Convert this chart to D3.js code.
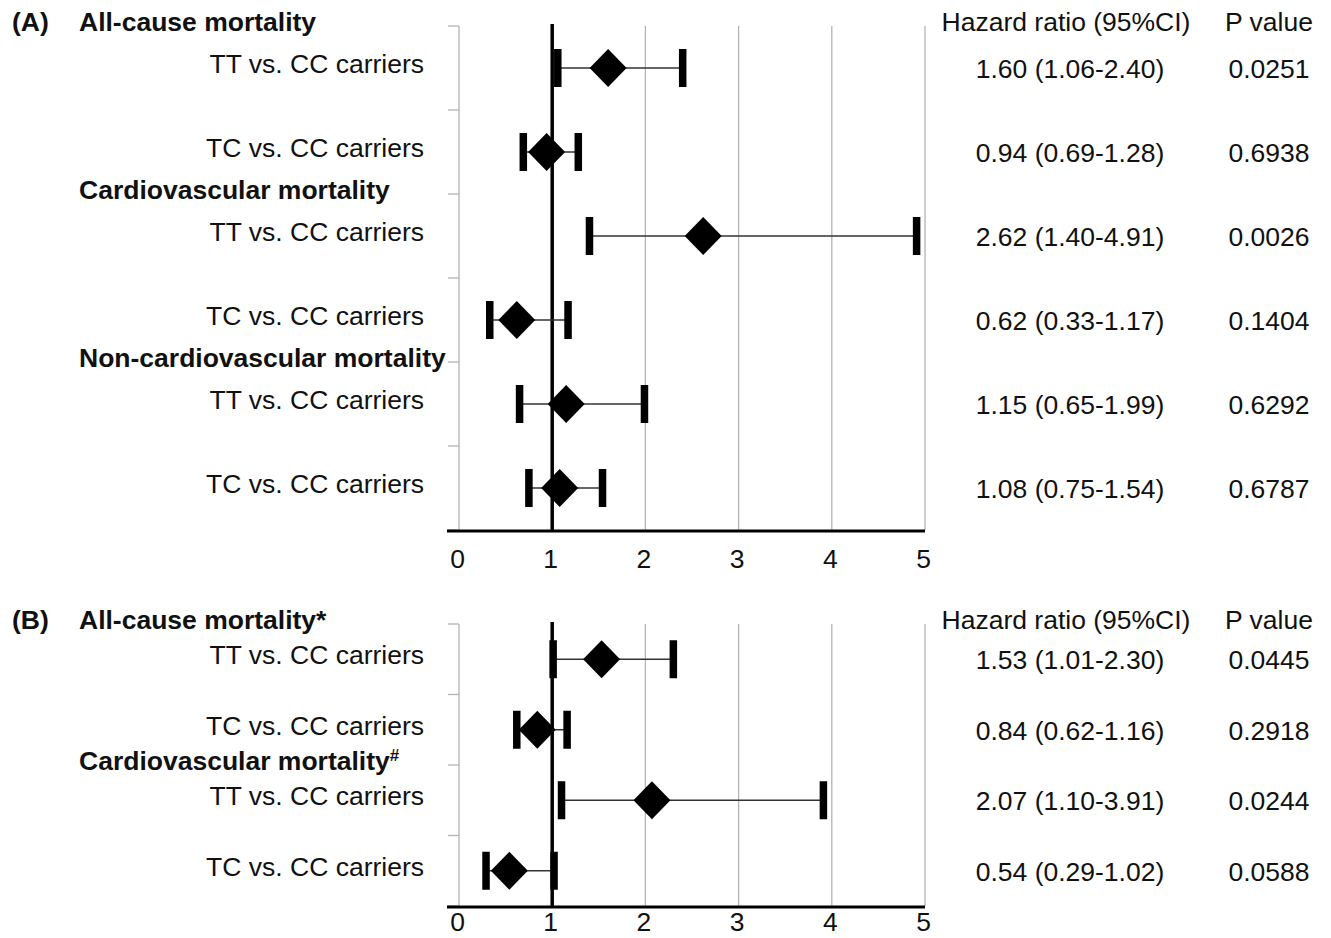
<!DOCTYPE html>
<html>
<head>
<meta charset="utf-8">
<script src="https://cdn.jsdelivr.net/npm/d3@7"></script>
<style>
  html, body { margin: 0; padding: 0; background: #fff; }
  svg { display: block; }
  text { font-family: "Liberation Sans", Arial, sans-serif; fill: #111; }
</style>
</head>
<body>
<svg id="chart" width="1331" height="938"></svg>
<script>
// ---------- data ----------
const xTicks = [0, 1, 2, 3, 4, 5];
const comparisons = ["TT vs. CC carriers", "TC vs. CC carriers"];

// Panel A
const panelATitle = "(A)";
const panelAGroups = ["All-cause mortality", "Cardiovascular mortality", "Non-cardiovascular mortality"];
const panelAHR    = [1.60, 0.94, 2.62, 0.62, 1.15, 1.08];
const panelALower = [1.06, 0.69, 1.40, 0.33, 0.65, 0.75];
const panelAUpper = [2.40, 1.28, 4.91, 1.17, 1.99, 1.54];
const panelAP     = ["0.0251", "0.6938", "0.0026", "0.1404", "0.6292", "0.6787"];

// Panel B
const panelBTitle = "(B)";
const panelBGroups = ["All-cause mortality", "Cardiovascular mortality"];
const panelBMarks  = ["*", "#"];
const panelBHR    = [1.53, 0.84, 2.07, 0.54];
const panelBLower = [1.01, 0.62, 1.10, 0.29];
const panelBUpper = [2.30, 1.16, 3.91, 1.02];
const panelBP     = ["0.0445", "0.2918", "0.0244", "0.0588"];

const hrHeader = "Hazard ratio (95%CI)";
const pHeader = "P value";

// ---------- layout ----------
const svg = d3.select("#chart");
const FS = 26.5;
const x = d3.scaleLinear().domain([0, 5]).range([459, 925]);

function fmt(v) { return v.toFixed(2); }

function drawPanel(cfg) {
  const n = cfg.hr.length;
  const rows = d3.range(n);
  const y = d3.scaleBand().domain(rows).range([cfg.top, cfg.bottom]).padding(0);
  const g = svg.append("g");

  // grid lines at x ticks
  g.selectAll("line.grid").data(xTicks).join("line")
    .attr("x1", d => x(d)).attr("x2", d => x(d))
    .attr("y1", cfg.top).attr("y2", cfg.bottom)
    .attr("stroke", "#b3b3b3").attr("stroke-width", 1.3);

  // left tick marks at band boundaries
  const bounds = rows.map(r => y(r)).concat([cfg.bottom]);
  g.selectAll("line.ytick").data(bounds).join("line")
    .attr("x1", x(0) - 11).attr("x2", x(0))
    .attr("y1", d => d).attr("y2", d => d)
    .attr("stroke", "#b3b3b3").attr("stroke-width", 1.3);

  // bottom axis
  const axis = d3.axisBottom(x).tickValues(xTicks).tickSize(0).tickPadding(cfg.tickPad).tickFormat(d3.format("d"));
  const ag = g.append("g").attr("transform", `translate(0,${cfg.bottom})`).call(axis);
  ag.select(".domain").remove();
  ag.selectAll("text").attr("font-size", FS).attr("fill", "#111")
    .attr("font-family", '"Liberation Sans", Arial, sans-serif')
    .attr("dx", -2);
  g.append("line")
    .attr("x1", x(0) - 12).attr("x2", x(5))
    .attr("y1", cfg.bottom + 1).attr("y2", cfg.bottom + 1)
    .attr("stroke", "#000").attr("stroke-width", 3);

  // reference line at HR = 1
  g.append("line")
    .attr("x1", x(1)).attr("x2", x(1))
    .attr("y1", cfg.top - 2).attr("y2", cfg.bottom)
    .attr("stroke", "#000").attr("stroke-width", 3.5);

  const cy = r => y(r) + y.bandwidth() / 2;

  // CI lines
  g.selectAll("line.ci").data(rows).join("line")
    .attr("x1", r => x(cfg.lo[r])).attr("x2", r => x(cfg.hi[r]))
    .attr("y1", cy).attr("y2", cy)
    .attr("stroke", "#333").attr("stroke-width", 1.5);

  // caps
  const capW = 7.5, capH = 38;
  g.selectAll("rect.capL").data(rows).join("rect")
    .attr("x", r => x(cfg.lo[r]) - capW / 2).attr("y", r => cy(r) - capH / 2)
    .attr("width", capW).attr("height", capH).attr("fill", "#000");
  g.selectAll("rect.capR").data(rows).join("rect")
    .attr("x", r => x(cfg.hi[r]) - capW / 2).attr("y", r => cy(r) - capH / 2)
    .attr("width", capW).attr("height", capH).attr("fill", "#000");

  // diamonds
  const dw = 18.5, dh = 19;
  g.selectAll("path.dia").data(rows).join("path")
    .attr("d", r => {
      const cx = x(cfg.hr[r]), c = cy(r);
      return `M${cx},${c - dh}L${cx + dw},${c}L${cx},${c + dh}L${cx - dw},${c}Z`;
    })
    .attr("fill", "#000");

  // row labels (right-aligned)
  g.selectAll("text.lab").data(rows).join("text")
    .attr("x", 424).attr("y", r => cy(r) + 5)
    .attr("text-anchor", "end").attr("font-size", FS)
    .text(r => comparisons[r % 2]);

  // group headings
  cfg.groups.forEach((name, i) => {
    const t = g.append("text")
      .attr("x", 79).attr("y", y(i * 2) + 5)
      .attr("font-size", FS).attr("font-weight", "bold")
      .text(name);
    if (cfg.marks) {
      if (cfg.marks[i] === "#") {
        t.append("tspan").attr("font-size", 17).attr("dy", -9).text(cfg.marks[i]);
      } else {
        t.append("tspan").text(cfg.marks[i]);
      }
    }
  });

  // panel title
  g.append("text").attr("x", 12).attr("y", cfg.top + 5)
    .attr("font-size", FS).attr("font-weight", "bold").text(cfg.title);

  // column headers
  g.append("text").attr("x", 1066).attr("y", cfg.top + 5)
    .attr("text-anchor", "middle").attr("font-size", FS).text(hrHeader);
  g.append("text").attr("x", 1269).attr("y", cfg.top + 5)
    .attr("text-anchor", "middle").attr("font-size", FS).text(pHeader);

  // values
  g.selectAll("text.hr").data(rows).join("text")
    .attr("x", 1070).attr("y", r => cy(r) + 10)
    .attr("text-anchor", "middle").attr("font-size", FS)
    .text(r => `${fmt(cfg.hr[r])} (${fmt(cfg.lo[r])}-${fmt(cfg.hi[r])})`);
  g.selectAll("text.p").data(rows).join("text")
    .attr("x", 1269).attr("y", r => cy(r) + 10)
    .attr("text-anchor", "middle").attr("font-size", FS)
    .text(r => cfg.p[r]);
}

drawPanel({
  title: panelATitle, groups: panelAGroups, marks: null,
  hr: panelAHR, lo: panelALower, hi: panelAUpper, p: panelAP,
  top: 26, bottom: 530, tickPad: 19
});
drawPanel({
  title: panelBTitle, groups: panelBGroups, marks: panelBMarks,
  hr: panelBHR, lo: panelBLower, hi: panelBUpper, p: panelBP,
  top: 624, bottom: 906, tickPad: 6
});
</script>
</body>
</html>
